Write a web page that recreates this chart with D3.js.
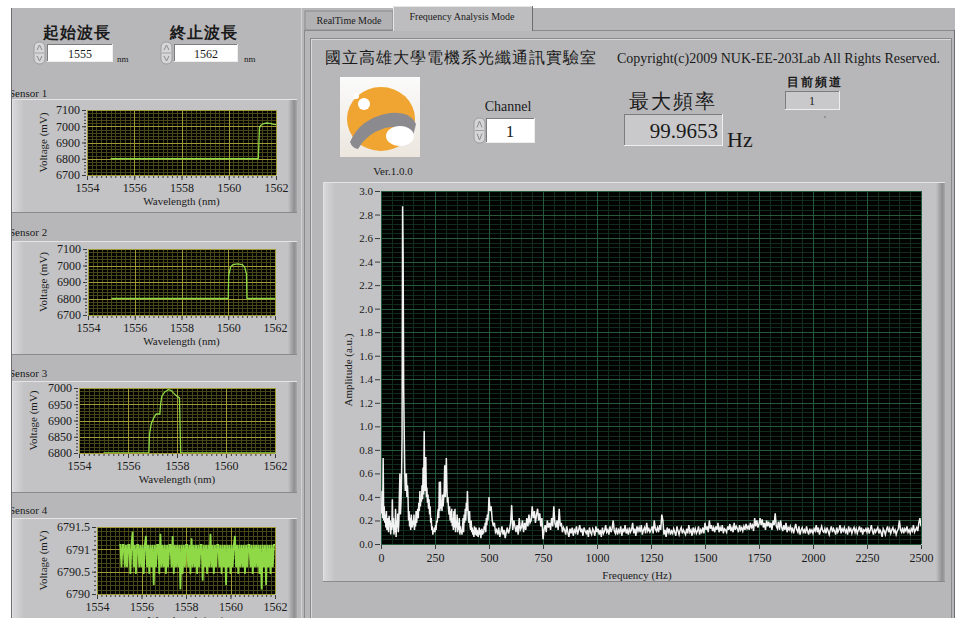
<!DOCTYPE html>
<html>
<head>
<meta charset="utf-8">
<script src="https://cdn.jsdelivr.net/npm/d3@7"></script>
<style>
  body { margin: 0; background: #ffffff; }
  svg { display: block; }
  text { font-family: "Liberation Serif", "DejaVu Serif", serif; fill: #1a1a1a; }
</style>
</head>
<body>
<svg id="ui" width="960" height="618"></svg>
<script>
// ---------------- data ----------------
const startWavelength = 1555;      // 起始波長 (nm)
const stopWavelength = 1562;       // 終止波長 (nm)
const channelValue = 1;
const currentChannel = 1;
const peakFrequency = 99.9653;     // 最大頻率 (Hz)

const sensorXTicks = [1554, 1556, 1558, 1560, 1562];
const sensor12YTicks = [6700, 6800, 6900, 7000, 7100];
const sensor3YTicks = [6800, 6850, 6900, 6950, 7000];
const sensor4YTicks = [6790, 6790.5, 6791, 6791.5];

// Sensor 1 reflection spectrum (wavelength nm, voltage mV)
const s1Wave = [1555.0, 1561.25, 1561.3, 1561.35, 1561.45, 1561.6, 1561.75, 1561.9, 1562.0];
const s1Volt = [6800, 6800, 6990, 7005, 7015, 7020, 7018, 7012, 7010];

// Sensor 2
const s2Wave = [1555.0, 1560.0, 1560.02, 1560.1, 1560.2, 1560.4, 1560.6, 1560.7, 1560.78, 1560.8, 1562.0];
const s2Volt = [6800, 6800, 6940, 6990, 7005, 7010, 7005, 6990, 6950, 6800, 6800];

// Sensor 3
const s3Wave = [1555.0, 1556.85, 1556.88, 1556.95, 1557.05, 1557.15, 1557.3, 1557.33, 1557.38, 1557.5, 1557.65, 1557.75, 1557.85, 1558.0, 1558.1, 1558.15, 1562.0];
const s3Volt = [6800, 6800, 6860, 6890, 6908, 6920, 6920, 6950, 6975, 6988, 6995, 6993, 6985, 6975, 6970, 6800, 6800];

// Sensor 4: sampled every 0.05 nm from 1555.0 nm
const s4Start = 1555.0;
const s4Step = 0.05;
const s4Volt = [
  6791.1,6791.1,6790.6,6791.1,6791.1,6790.6,6791.1,6790.6,6791.1,6791.1,
  6790.45,6791.1,6791.4,6790.6,6791.1,6790.45,6791.1,6791.1,6790.6,6791.1,
  6790.6,6791.1,6790.45,6791.1,6791.3,6790.6,6791.1,6790.45,6791.1,6790.6,
  6791.1,6790.2,6791.1,6790.6,6791.1,6791.1,6790.45,6791.35,6790.6,6791.1,
  6790.6,6791.1,6790.45,6791.1,6790.6,6791.1,6791.1,6790.6,6791.3,6790.45,
  6791.1,6790.6,6791.1,6790.6,6791.1,6790.1,6791.1,6790.45,6791.1,6790.6,
  6791.1,6791.1,6790.6,6791.1,6790.45,6791.25,6790.6,6791.1,6790.6,6791.1,
  6790.45,6791.1,6790.6,6791.1,6791.1,6790.3,6791.1,6790.6,6791.1,6790.45,
  6791.1,6790.6,6791.35,6790.6,6791.1,6790.45,6791.1,6790.6,6791.1,6791.1,
  6790.6,6791.1,6790.45,6791.1,6790.6,6791.1,6790.2,6791.1,6790.6,6791.1,
  6790.45,6791.1,6790.6,6791.1,6791.3,6790.6,6791.1,6790.45,6791.1,6790.6,
  6791.1,6790.6,6791.1,6790.45,6791.1,6790.6,6791.1,6791.1,6790.6,6791.1,
  6790.45,6791.1,6790.6,6791.1,6790.6,6791.1,6790.45,6791.1,6790.1,6791.1,
  6790.6,6791.1,6790.2,6791.1,6790.6,6791.1,6790.45,6791.1,6790.6,6791.1,
  6791.1
];

// Frequency spectrum of channel 1
const mainXTicks = [0, 250, 500, 750, 1000, 1250, 1500, 1750, 2000, 2250, 2500];
const mainYTicks = [0.0, 0.2, 0.4, 0.6, 0.8, 1.0, 1.2, 1.4, 1.6, 1.8, 2.0, 2.2, 2.4, 2.6, 2.8, 3.0];

// 0 – 497.5 Hz, 2.5 Hz bins
const lowBandStart = 0;
const lowBandStep = 2.5;
const lowBandAmp = [
  0.30,0.26,0.45,0.22,0.73,0.20,0.32,0.18,0.25,0.14,
  0.28,0.12,0.22,0.16,0.10,0.24,0.15,0.20,0.08,0.18,
  0.12,0.38,0.14,0.22,0.08,0.16,0.10,0.30,0.06,0.20,
  0.14,0.26,0.10,0.18,0.40,0.60,0.25,0.35,0.55,0.90,
  2.87,2.44,1.32,0.95,0.60,0.45,0.55,0.60,0.40,0.50,
  0.40,0.20,0.28,0.15,0.22,0.12,0.25,0.18,0.14,0.20,
  0.16,0.25,0.12,0.20,0.15,0.28,0.18,0.24,0.30,0.22,
  0.35,0.28,0.45,0.32,0.40,0.36,0.50,0.38,0.65,0.42,
  0.96,0.45,0.50,0.74,0.40,0.48,0.35,0.42,0.30,0.38,
  0.25,0.32,0.18,0.22,0.12,0.15,0.08,0.12,0.10,0.14,
  0.10,0.16,0.12,0.20,0.18,0.25,0.30,0.22,0.53,0.28,
  0.53,0.30,0.35,0.28,0.42,0.32,0.38,0.45,0.67,0.40,
  0.50,0.73,0.48,0.35,0.40,0.30,0.25,0.32,0.20,0.28,
  0.18,0.30,0.15,0.22,0.12,0.28,0.14,0.30,0.10,0.20,
  0.14,0.25,0.10,0.18,0.12,0.22,0.08,0.15,0.10,0.12,
  0.08,0.14,0.22,0.10,0.25,0.18,0.30,0.20,0.35,0.28,
  0.45,0.30,0.22,0.18,0.28,0.15,0.12,0.20,0.10,0.14,
  0.08,0.12,0.06,0.15,0.10,0.08,0.14,0.07,0.12,0.09,
  0.06,0.10,0.14,0.08,0.12,0.05,0.10,0.13,0.08,0.11,
  0.09,0.15,0.12,0.18,0.10,0.22,0.16,0.25,0.20,0.28
];

// 500 – 2500 Hz, 5 Hz bins
const highBandStart = 500;
const highBandStep = 5;
const highBandAmp = [
  0.40,0.28,0.32,0.20,0.15,0.18,0.10,0.12,0.08,0.14,
  0.06,0.10,0.15,0.08,0.12,0.05,0.10,0.14,0.09,0.12,
  0.18,0.33,0.12,0.20,0.15,0.10,0.16,0.08,0.22,0.12,
  0.14,0.20,0.10,0.18,0.12,0.22,0.15,0.25,0.18,0.20,
  0.32,0.22,0.28,0.18,0.25,0.30,0.20,0.26,0.15,0.22,
  0.04,0.12,0.16,0.10,0.20,0.14,0.18,0.12,0.22,0.15,
  0.32,0.18,0.14,0.20,0.12,0.30,0.15,0.18,0.10,0.14,
  0.12,0.08,0.15,0.10,0.06,0.13,0.09,0.14,0.07,0.12,
  0.10,0.15,0.08,0.12,0.16,0.10,0.13,0.07,0.14,0.11,
  0.09,0.12,0.06,0.14,0.10,0.08,0.13,0.11,0.07,0.15,
  0.10,0.13,0.08,0.12,0.06,0.14,0.09,0.11,0.16,0.10,
  0.12,0.08,0.15,0.10,0.13,0.20,0.11,0.09,0.14,0.08,
  0.12,0.10,0.15,0.07,0.13,0.10,0.16,0.09,0.12,0.08,
  0.14,0.10,0.12,0.18,0.09,0.13,0.07,0.15,0.11,0.14,
  0.10,0.16,0.08,0.12,0.14,0.09,0.18,0.11,0.13,0.10,
  0.12,0.15,0.09,0.20,0.13,0.11,0.14,0.10,0.16,0.12,
  0.25,0.20,0.08,0.12,0.06,0.14,0.10,0.13,0.08,0.11,
  0.09,0.13,0.10,0.07,0.15,0.11,0.08,0.12,0.14,0.09,
  0.12,0.10,0.08,0.13,0.09,0.16,0.10,0.12,0.07,0.14,
  0.10,0.13,0.09,0.11,0.15,0.08,0.12,0.10,0.14,0.09,
  0.18,0.12,0.15,0.10,0.20,0.13,0.16,0.11,0.14,0.10,
  0.15,0.12,0.18,0.10,0.14,0.11,0.16,0.09,0.13,0.12,
  0.10,0.15,0.12,0.17,0.11,0.14,0.10,0.18,0.12,0.15,
  0.13,0.10,0.16,0.12,0.14,0.11,0.15,0.12,0.17,0.13,
  0.15,0.12,0.18,0.14,0.16,0.11,0.22,0.15,0.20,0.14,
  0.17,0.22,0.16,0.21,0.14,0.18,0.12,0.20,0.15,0.19,
  0.14,0.18,0.12,0.20,0.16,0.26,0.15,0.13,0.19,0.12,
  0.20,0.14,0.11,0.16,0.12,0.18,0.10,0.14,0.12,0.15,
  0.11,0.14,0.09,0.13,0.17,0.12,0.10,0.15,0.08,0.12,
  0.14,0.10,0.12,0.09,0.15,0.11,0.08,0.13,0.10,0.12,
  0.09,0.13,0.11,0.16,0.10,0.14,0.08,0.12,0.15,0.11,
  0.10,0.13,0.09,0.14,0.11,0.08,0.12,0.15,0.10,0.13,
  0.11,0.08,0.14,0.10,0.12,0.16,0.09,0.13,0.11,0.14,
  0.10,0.12,0.08,0.15,0.11,0.13,0.09,0.12,0.14,0.10,
  0.13,0.09,0.12,0.15,0.10,0.14,0.08,0.12,0.11,0.13,
  0.10,0.14,0.09,0.12,0.16,0.11,0.08,0.13,0.10,0.12,
  0.14,0.09,0.12,0.10,0.06,0.13,0.11,0.08,0.12,0.15,
  0.10,0.13,0.09,0.12,0.14,0.10,0.12,0.08,0.11,0.13,
  0.20,0.12,0.10,0.14,0.09,0.13,0.11,0.15,0.10,0.12,
  0.09,0.13,0.11,0.16,0.10,0.12,0.14,0.11,0.18,0.22,
  0.15
];

// ---------------- drawing ----------------
const CJK = '"Noto Sans CJK TC","Noto Sans CJK SC",sans-serif';
const BG = "#b7b7b9";
const PANEL = "#c3c3c5";
const svg = d3.select("#ui");
const defs = svg.append("defs");

const shadeR = defs.append("linearGradient").attr("id", "shadeR");
shadeR.append("stop").attr("offset", "0%").attr("stop-color", PANEL);
shadeR.append("stop").attr("offset", "70%").attr("stop-color", "#8f8f91");
shadeR.append("stop").attr("offset", "100%").attr("stop-color", "#a9a9ab");
const shadeL = defs.append("linearGradient").attr("id", "shadeL");
shadeL.append("stop").attr("offset", "0%").attr("stop-color", "#dadadc");
shadeL.append("stop").attr("offset", "100%").attr("stop-color", PANEL);
const logoBg = defs.append("linearGradient").attr("id", "logoBg").attr("x1", 0).attr("y1", 0).attr("x2", 0).attr("y2", 1);
logoBg.append("stop").attr("offset", "0%").attr("stop-color", "#fbfbfb");
logoBg.append("stop").attr("offset", "100%").attr("stop-color", "#ece6de");

function rect(g, x, y, w, h, fill, stroke) {
  const r = g.append("rect").attr("x", x).attr("y", y).attr("width", w).attr("height", h).attr("fill", fill);
  if (stroke) r.attr("stroke", stroke).attr("stroke-width", 1);
  return r;
}
function hline(g, x0, x1, y, c) {
  g.append("line").attr("x1", x0).attr("x2", x1).attr("y1", y).attr("y2", y).attr("stroke", c).attr("stroke-width", 1);
}
function vline(g, x, y0, y1, c) {
  g.append("line").attr("x1", x).attr("x2", x).attr("y1", y0).attr("y2", y1).attr("stroke", c).attr("stroke-width", 1);
}
function text(g, x, y, s, size, anchor, extra) {
  const t = g.append("text").attr("x", x).attr("y", y).attr("font-size", size)
    .attr("text-anchor", anchor || "start").text(s);
  if (extra) Object.entries(extra).forEach(([k, v]) => t.attr(k, v));
  return t;
}
function inset(g, x, y, w, h, fill) {
  rect(g, x, y, w, h, fill);
  hline(g, x, x + w, y + 0.5, "#7c7c7e");
  vline(g, x + 0.5, y, y + h, "#7c7c7e");
  hline(g, x, x + w, y + h - 0.5, "#eeeeee");
  vline(g, x + w - 0.5, y, y + h, "#eeeeee");
}
function raised(g, x0, y0, x1, y1) {
  rect(g, x0, y0, x1 - x0, y1 - y0, PANEL);
  rect(g, x0, y0, 12, y1 - y0, "url(#shadeL)");
  rect(g, x1 - 9, y0, 9, y1 - y0, "url(#shadeR)");
  hline(g, x0, x1, y0 + 0.5, "#e4e4e6");
  vline(g, x0 + 0.5, y0, y1, "#e0e0e2");
  hline(g, x0, x1, y1 - 0.5, "#8a8a8c");
}
function spinner(g, x, y, h) {
  g.append("rect").attr("x", x).attr("y", y).attr("width", 11).attr("height", h).attr("rx", 5)
    .attr("fill", "#d6d6d8").attr("stroke", "#9c9c9e");
  hline(g, x + 1, x + 10, y + h / 2, "#a0a0a2");
  g.append("path").attr("d", `M${x + 3},${y + h / 2 - 3} L${x + 5.5},${y + 3} L${x + 8},${y + h / 2 - 3}`)
    .attr("fill", "none").attr("stroke", "#8a8a8c");
  g.append("path").attr("d", `M${x + 3},${y + h / 2 + 3} L${x + 5.5},${y + h - 3} L${x + 8},${y + h / 2 + 3}`)
    .attr("fill", "none").attr("stroke", "#8a8a8c");
}

const chrome = svg.append("g");

// left column
rect(chrome, 11, 8, 290, 610, BG);
vline(chrome, 11.5, 8, 618, "#6e6e70");
// right column with tabs
rect(chrome, 301, 8, 654, 610, BG);
vline(chrome, 301.5, 8, 618, "#d2d2d4");
vline(chrome, 304.5, 30, 618, "#8a8a8c");
hline(chrome, 304, 955, 30.5, "#8a8a8c");
vline(chrome, 954.5, 30, 618, "#6e6e70");
// tabs
rect(chrome, 305, 11, 88, 19, "#b2b2b4", "#8a8a8c");
text(chrome, 349, 24, "RealTime  Mode", 10, "middle");
rect(chrome, 393, 6, 140, 25, "#bdbdbf");
hline(chrome, 393, 533, 6.5, "#e6e6e8");
vline(chrome, 393.5, 6, 31, "#e6e6e8");
vline(chrome, 532.5, 6, 31, "#6e6e70");
text(chrome, 462, 20, "Frequency Analysis Mode", 10, "middle");
// inner frame
rect(chrome, 310.5, 38.5, 641, 590, "none", "#8a8a8c");
vline(chrome, 311.5, 39, 618, "#d8d8da");
hline(chrome, 311, 951, 39.5, "#d8d8da");

// header texts
text(chrome, 325, 63, "國立高雄大學電機系光纖通訊實驗室", 16, "start",
  { "font-family": CJK, "font-weight": 500, "letter-spacing": 1 });
text(chrome, 940, 63, "Copyright(c)2009 NUK-EE-203Lab All Rights Reserved.", 14, "end");

// logo
const logo = chrome.append("g");
rect(logo, 340, 77, 80, 80, "url(#logoBg)");
logo.append("ellipse").attr("cx", 381).attr("cy", 119).attr("rx", 34).attr("ry", 32).attr("fill", "#f0a532");
logo.append("circle").attr("cx", 364).attr("cy", 104).attr("r", 6).attr("fill", "#ffffff");
logo.append("circle").attr("cx", 356).attr("cy", 96).attr("r", 3).attr("fill", "#ffffff");
logo.append("path")
  .attr("d", "M350,142 Q360,118 390,113 Q410,111 416,124 L413,136 Q402,124 385,128 Q366,134 358,149 Q352,148 350,142 Z")
  .attr("fill", "#8b8b8f");
logo.append("ellipse").attr("cx", 400).attr("cy", 136).attr("rx", 14).attr("ry", 10).attr("fill", "#ffffff");
text(chrome, 393, 175, "Ver.1.0.0", 11, "middle");

// channel control
text(chrome, 508, 111, "Channel", 14, "middle");
spinner(chrome, 474, 118, 25);
inset(chrome, 486, 118, 49, 25, "#ffffff");
text(chrome, 510, 137, String(channelValue), 17, "middle");

// peak frequency indicator
text(chrome, 629, 108, "最大頻率", 20, "start", { "font-family": CJK, "font-weight": 500, "letter-spacing": 2 });
inset(chrome, 624, 114, 99, 32, "#c9c9cb");
text(chrome, 718, 138, peakFrequency.toFixed(4), 21, "end");
text(chrome, 727, 147, "Hz", 22, "start");

// current channel indicator
text(chrome, 815, 86, "目前頻道", 12, "middle", { "font-family": CJK, "font-weight": 700, "letter-spacing": 2 });
inset(chrome, 785, 91, 55, 19, "#c9c9cb");
text(chrome, 812, 105, String(currentChannel), 12, "middle");
chrome.append("circle").attr("cx", 825).attr("cy", 117).attr("r", 0.7).attr("fill", "#555");

// wavelength range controls
text(chrome, 43, 38, "起始波長", 16, "start", { "font-family": CJK, "font-weight": 700, "letter-spacing": 1 });
text(chrome, 170, 38, "終止波長", 16, "start", { "font-family": CJK, "font-weight": 700, "letter-spacing": 1 });
spinner(chrome, 34, 42, 22);
inset(chrome, 47, 44, 66, 18, "#ffffff");
text(chrome, 80, 58, String(startWavelength), 12, "middle");
text(chrome, 117, 62, "nm", 9, "start");
spinner(chrome, 161, 42, 22);
inset(chrome, 174, 44, 64, 18, "#ffffff");
text(chrome, 206, 58, String(stopWavelength), 12, "middle");
text(chrome, 244, 62, "nm", 9, "start");

// ---------- sensor graphs ----------
function styleAxis(a, size) {
  a.select(".domain").remove();
  a.selectAll(".tick line").attr("stroke", "#3a3a3a");
  a.selectAll(".tick text").attr("font-size", size).attr("fill", "#1a1a1a")
    .attr("font-family", '"Liberation Serif","DejaVu Serif",serif');
}

let clipId = 0;
function sensorGraph(cfg) {
  const g = svg.append("g");
  text(g, 9, cfg.labelY, cfg.name, 11, "start");
  raised(g, 12, cfg.panel[0], 297, cfg.panel[1]);
  const [x0, y0, x1, y1] = cfg.plot;
  const x = d3.scaleLinear().domain([1554, 1562]).range([x0, x1]);
  const y = d3.scaleLinear().domain(cfg.yDomain).range([y1, y0]);
  rect(g, x0, y0, x1 - x0, y1 - y0, "#020202");

  const grid = g.append("g");
  d3.range(1554, 1562.001, 0.2).forEach(v =>
    vline(grid, Math.round(x(v)) + 0.5, y0, y1, "#464618"));
  d3.range(cfg.yDomain[0], cfg.yDomain[1] + 1e-6, cfg.minorY).forEach(v =>
    hline(grid, x0, x1, Math.round(y(v)) + 0.5, "#464618"));
  sensorXTicks.forEach(v => vline(grid, Math.round(x(v)) + 0.5, y0, y1, "#a09a34"));
  cfg.yTicks.forEach(v => hline(grid, x0, x1, Math.round(y(v)) + 0.5, "#a09a34"));

  // axes
  const ax = g.append("g").attr("transform", `translate(0,${y1 + 1})`)
    .call(d3.axisBottom(x).tickValues(sensorXTicks).tickSize(4).tickPadding(3).tickFormat(d3.format("d")));
  styleAxis(ax, 12);
  const axm = g.append("g").attr("transform", `translate(0,${y1 + 1})`)
    .call(d3.axisBottom(x).tickValues(d3.range(1554, 1562.001, 0.2)).tickSize(2).tickFormat(""));
  styleAxis(axm, 12);
  const ay = g.append("g").attr("transform", `translate(${x0 - 1},0)`)
    .call(d3.axisLeft(y).tickValues(cfg.yTicks).tickSize(4).tickPadding(2).tickFormat(cfg.fmt));
  styleAxis(ay, 12);
  const aym = g.append("g").attr("transform", `translate(${x0 - 1},0)`)
    .call(d3.axisLeft(y).tickValues(d3.range(cfg.yDomain[0], cfg.yDomain[1] + 1e-6, cfg.minorY)).tickSize(2).tickFormat(""));
  styleAxis(aym, 12);

  text(g, (x0 + x1) / 2, y1 + 30, "Wavelength (nm)", 11, "middle");
  text(g, 0, 0, "Voltage (mV)", 11, "middle")
    .attr("transform", `translate(${cfg.yLabelX},${(y0 + y1) / 2}) rotate(-90)`);

  const id = "clip" + (clipId++);
  defs.append("clipPath").attr("id", id).append("rect")
    .attr("x", x0).attr("y", y0).attr("width", x1 - x0).attr("height", y1 - y0);
  const pts = cfg.wave.map((w, i) => [w, cfg.volt[i]]);
  g.append("path").attr("clip-path", `url(#${id})`)
    .attr("d", d3.line().x(d => x(d[0])).y(d => y(d[1]))(pts))
    .attr("fill", "none").attr("stroke", "#8fd846").attr("stroke-width", cfg.lw || 1.3);
}

sensorGraph({ name: "Sensor 1", labelY: 97, panel: [99, 213], plot: [87, 110, 276, 175],
  yDomain: [6700, 7100], yTicks: sensor12YTicks, minorY: 20, fmt: d3.format("d"), yLabelX: 47,
  wave: s1Wave, volt: s1Volt });
sensorGraph({ name: "Sensor 2", labelY: 236, panel: [241, 355], plot: [88, 249, 275, 315],
  yDomain: [6700, 7100], yTicks: sensor12YTicks, minorY: 20, fmt: d3.format("d"), yLabelX: 47,
  wave: s2Wave, volt: s2Volt });
sensorGraph({ name: "Sensor 3", labelY: 377, panel: [381, 493], plot: [79, 388, 275, 453],
  yDomain: [6800, 7000], yTicks: sensor3YTicks, minorY: 10, fmt: d3.format("d"), yLabelX: 37,
  wave: s3Wave, volt: s3Volt });
sensorGraph({ name: "Sensor 4", labelY: 514, panel: [518, 640], plot: [97, 527, 275, 594],
  yDomain: [6790, 6791.5], yTicks: sensor4YTicks, minorY: 0.1, fmt: d => String(d), yLabelX: 47,
  wave: s4Volt.map((v, i) => s4Start + i * s4Step), volt: s4Volt, lw: 1.8 });

// left white strip over clipped sensor titles
rect(svg, 0, 0, 11, 618, "#ffffff");
vline(svg, 11.5, 8, 618, "#6e6e70");
rect(svg, 0, 0, 301, 8, "#ffffff");

// ---------- frequency spectrum ----------
const mg = svg.append("g");
raised(mg, 323, 182, 945, 582);
const P = { x0: 381, x1: 921, y0: 191, y1: 544 };
const mx = d3.scaleLinear().domain([0, 2500]).range([P.x0, P.x1]);
const my = d3.scaleLinear().domain([0, 3]).range([P.y1, P.y0]);
rect(mg, P.x0, P.y0, P.x1 - P.x0, P.y1 - P.y0, "#020202");
const mgrid = mg.append("g");
d3.range(0, 2500.001, 50).forEach(v => vline(mgrid, Math.round(mx(v)) + 0.5, P.y0, P.y1, "#112c1d"));
d3.range(0, 3.0001, 0.04).forEach(v => hline(mgrid, P.x0, P.x1, Math.round(my(v)) + 0.5, "#112c1d"));
mainXTicks.forEach(v => vline(mgrid, Math.round(mx(v)) + 0.5, P.y0, P.y1, "#245a3b"));
mainYTicks.forEach(v => hline(mgrid, P.x0, P.x1, Math.round(my(v)) + 0.5, "#245a3b"));

const mxa = mg.append("g").attr("transform", `translate(0,${P.y1 + 1})`)
  .call(d3.axisBottom(mx).tickValues(mainXTicks).tickSize(4).tickPadding(4).tickFormat(d3.format("d")));
styleAxis(mxa, 12);
const mya = mg.append("g").attr("transform", `translate(${P.x0 - 1},0)`)
  .call(d3.axisLeft(my).tickValues(mainYTicks).tickSize(5).tickPadding(2).tickFormat(d3.format(".1f")));
styleAxis(mya, 11);
text(mg, 637, 579, "Frequency  (Hz)", 11, "middle");
text(mg, 0, 0, "Amplitude  (a.u.)", 11, "middle").attr("transform", `translate(352,370) rotate(-90)`);

const spectrum = lowBandAmp.map((a, i) => ({ f: lowBandStart + i * lowBandStep, a }))
  .concat(highBandAmp.map((a, i) => ({ f: highBandStart + i * highBandStep, a })));
defs.append("clipPath").attr("id", "mainClip").append("rect")
  .attr("x", P.x0).attr("y", P.y0).attr("width", P.x1 - P.x0).attr("height", P.y1 - P.y0);
mg.append("path").attr("clip-path", "url(#mainClip)")
  .attr("d", d3.line().x(d => mx(d.f)).y(d => my(d.a))(spectrum))
  .attr("fill", "none").attr("stroke", "#f2f2f2").attr("stroke-width", 1.5);
</script>
</body>
</html>
